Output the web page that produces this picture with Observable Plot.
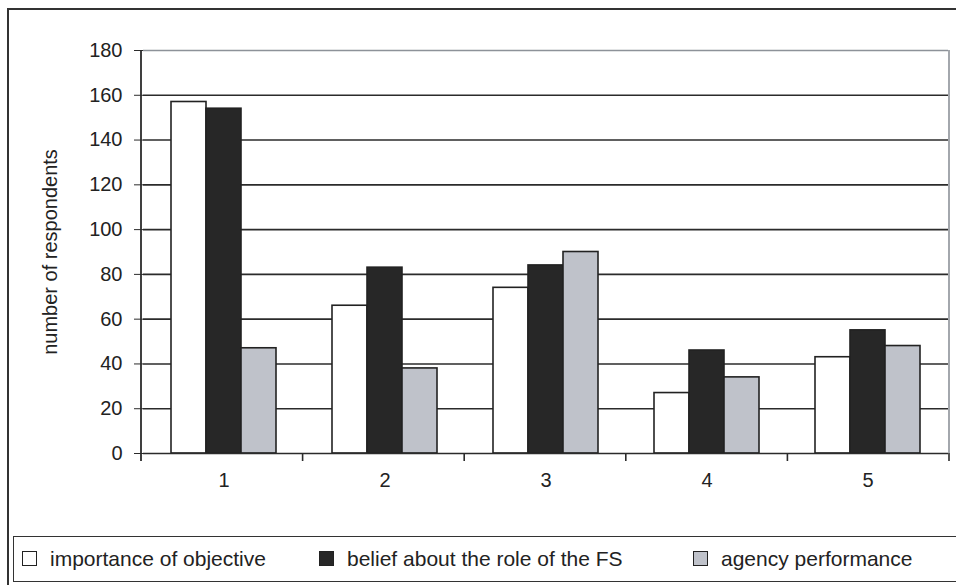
<!DOCTYPE html>
<html>
<head>
<meta charset="utf-8">
<script src="https://cdn.jsdelivr.net/npm/d3@7"></script>
<script src="https://cdn.jsdelivr.net/npm/@observablehq/plot@0.6"></script>
<style>
  html, body { margin: 0; padding: 0; background: #fff; width: 956px; height: 585px; overflow: hidden; }
  body { position: relative; font-family: "Liberation Sans", Arial, sans-serif; color: #222; }
  #outer { position: absolute; left: 7px; top: 8px; width: 1000px; height: 700px; border: 2px solid #333; box-sizing: border-box; }
  #chart { position: absolute; left: 0; top: 0; }
  #legend { position: absolute; left: 13px; top: 536px; width: 1000px; height: 46px; border: 1.5px solid #333; box-sizing: border-box; background: #fff; }
  .item { position: absolute; top: 0; height: 43px; display: flex; align-items: center; font-size: 21px; color: #222; white-space: nowrap; }
  .sw { width: 13px; height: 13px; border: 1.5px solid #222; margin-right: 13px; }
</style>
</head>
<body>
<div id="outer"></div>
<div id="chart"></div>
<div id="legend"></div>
<script>
const categories = ["1", "2", "3", "4", "5"];
const seriesNames = ["importance of objective", "belief about the role of the FS", "agency performance"];
const importance = [157, 66, 74, 27, 43];
const belief = [154, 83, 84, 46, 55];
const agency = [47, 38, 90, 34, 48];
const yTicks = [0, 20, 40, 60, 80, 100, 120, 140, 160, 180];
const colors = ["#ffffff", "#272727", "#bfc2ca"];
const yLabel = "number of respondents";

const seriesValues = [importance, belief, agency];
const data = categories.flatMap((c, i) => seriesNames.map((s, j) => ({cat: c, series: s, value: seriesValues[j][i]})));

const plot = Plot.plot({
  width: 956,
  height: 500,
  marginLeft: 141,
  marginRight: 7,
  marginTop: 50,
  marginBottom: 47,
  style: {fontFamily: "'Liberation Sans', Arial, sans-serif", fontSize: "20px", color: "#222", background: "transparent", overflow: "visible"},
  fx: {domain: categories, padding: 0},
  x: {domain: seriesNames, paddingInner: 0, paddingOuter: 0.744, axis: null},
  y: {domain: [0, 180]},
  color: {domain: seriesNames, range: colors},
  marks: [
    Plot.ruleY(yTicks.filter(t => t > 0 && t < 180), {stroke: "#2b2b2b", strokeWidth: 1.6}),
    Plot.ruleY([180], {stroke: "#8d9299", strokeWidth: 1.6}),
    Plot.barY(data, {fx: "cat", x: "series", y: "value", fill: "series", stroke: "#222", strokeWidth: 1.6}),
    Plot.ruleY([0], {stroke: "#2b2b2b", strokeWidth: 1.6}),
    Plot.axisY({ticks: yTicks, tickSize: 9, tickPadding: 12, label: yLabel, labelArrow: "none", labelAnchor: "center", labelOffset: 101, fontSize: 20, stroke: "#2b2b2b"}),
    Plot.axisFx({anchor: "bottom", tickSize: 0, tickPadding: 19, label: null, fontSize: 20})
  ]
});
document.getElementById("chart").appendChild(plot);

// boundary ticks, axis line and right border drawn from the library's scales
const fxS = plot.scale("fx");
const yS = plot.scale("y");
const band = d3.scaleBand().domain(fxS.domain).range(fxS.range).padding(0);
const ys = d3.scaleLinear().domain(yS.domain).range(yS.range);
const svg = d3.select(plot);
const g = svg.append("g");
const bounds = fxS.domain.map(d => band(d)).concat([band.range()[1]]);
const y0 = ys(0), yTop = ys(180);
g.selectAll("line.b").data(bounds.slice(1, -1)).join("line")
  .attr("x1", d => d).attr("x2", d => d).attr("y1", y0).attr("y2", y0 + 8)
  .attr("stroke", "#2b2b2b").attr("stroke-width", 1.6);
g.append("line").attr("x1", bounds[bounds.length - 1]).attr("x2", bounds[bounds.length - 1])
  .attr("y1", y0).attr("y2", y0 + 8).attr("stroke", "#2b2b2b").attr("stroke-width", 1.6);
g.append("line").attr("x1", bounds[bounds.length - 1]).attr("x2", bounds[bounds.length - 1])
  .attr("y1", yTop).attr("y2", y0).attr("stroke", "#8d9299").attr("stroke-width", 1.6);
g.append("line").attr("x1", bounds[0]).attr("x2", bounds[0])
  .attr("y1", yTop).attr("y2", y0 + 8).attr("stroke", "#2b2b2b").attr("stroke-width", 1.8);

// legend
const legend = document.getElementById("legend");
const positions = [8, 305, 679];
seriesNames.forEach((s, i) => {
  const it = document.createElement("div");
  it.className = "item";
  it.style.left = positions[i] + "px";
  const sw = document.createElement("div");
  sw.className = "sw";
  sw.style.background = colors[i];
  it.appendChild(sw);
  const t = document.createElement("span");
  t.textContent = s;
  it.appendChild(t);
  legend.appendChild(it);
});
</script>
</body>
</html>
